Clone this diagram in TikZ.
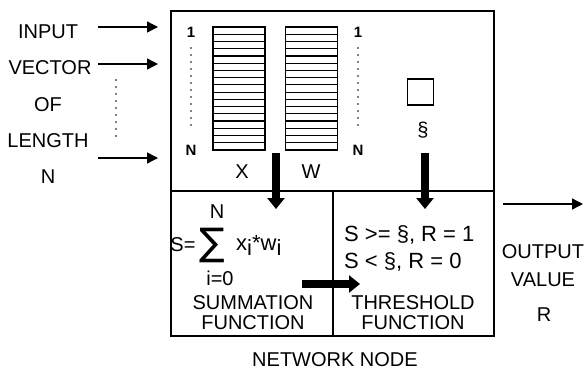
\documentclass[tikz,border=0pt]{standalone}
\usepackage{fontspec}
\setmainfont{Liberation Sans}
\newfontfamily\sigfont{DejaVu Sans}
\usetikzlibrary{arrows.meta}

\begin{document}
\begin{tikzpicture}[x=1pt,y=-1pt,
  cell/.style={draw,line width=2.2pt,inner sep=0pt,anchor=north west},
  bar/.style={draw,line width=1.6pt,inner sep=0pt,minimum width=52pt,minimum height=123pt},
  lbl/.style={font=\fontsize{20}{22}\selectfont,inner sep=0pt},
  rule/.style={font=\fontsize{22}{24}\selectfont,inner sep=0pt,anchor=west},
  idx/.style={font=\fontsize{15}{18}\selectfont\bfseries,inner sep=0pt},
  dots/.style={line width=1.6pt,line cap=round,dash pattern=on 0pt off 7pt},
  inarr/.style={-{Triangle[length=11pt,width=11pt]},line width=1.4pt},
  fatarr/.style={-{Triangle[length=11pt,width=17pt]},line width=7.5pt}]
  \useasboundingbox (0,0) rectangle (587,373);
  % node body
  \node[cell,minimum width=323pt,minimum height=180pt] (top) at (170,10) {};
  \node[cell,minimum width=162pt,minimum height=145pt] (sum) at (170,190) {};
  \node[cell,minimum width=161pt,minimum height=145pt] (thr) at (332,190) {};
  % input side
  \node[lbl] (in) at (48,32) {INPUT};
  \node[lbl] (vec) at (50,68) {VECTOR};
  \node[lbl] (of) at (48,105) {OF};
  \node[lbl] (len) at (48,141) {LENGTH};
  \node[lbl] (n) at (48,177) {N};
  \coordinate (a1) at (98,27);  \coordinate (b1) at (158,27);
  \coordinate (a2) at (98,64);  \coordinate (b2) at (158,64);
  \coordinate (a3) at (98,158); \coordinate (b3) at (158,158);
  \draw[inarr] (a1) -- (b1);
  \draw[inarr] (a2) -- (b2);
  \draw[inarr] (a3) -- (b3);
  \draw[dots] (116,80) -- (116,138);
  % weight and input stores
  \node[bar] (xbar) at (239,88.5) {};
  \node[bar] (wbar) at (311.5,88.5) {};
  \foreach \k in {1,...,16}{
    \pgfmathsetmacro\yy{27+\k*7.235}
    \draw[line width=1.2pt] (213,\yy) -- (265,\yy);
    \draw[line width=1.2pt] (286,\yy) -- (337,\yy);
  }
  \node[idx] (x1) at (191,32) {1};
  \node[idx] (xn) at (191,150) {N};
  \node[idx] (w1) at (358,32) {1};
  \node[idx] (wn) at (358,150) {N};
  \draw[dots] (191,48) -- (191,128);
  \draw[dots] (358,48) -- (358,128);
  \node[lbl] (xl) at (242,172) {X};
  \node[lbl] (wl) at (311,172) {W};
  % threshold
  \node[draw,line width=1.6pt,minimum size=26pt,inner sep=0pt] (th) at (420.5,92) {};
  \node[lbl] (thl) at (423,130) {§};
  \coordinate (f1) at (276,153); \coordinate (g1) at (276,209);
  \coordinate (f2) at (425,153); \coordinate (g2) at (425,209);
  \draw[fatarr] (f1) -- (g1);
  \draw[fatarr] (f2) -- (g2);
  % summation
  \node[lbl] (seq) at (183,245) {S=};
  \node[inner sep=0pt] (sig) at (212,245) {\sigfont\fontsize{38}{38}\selectfont ∑};
  \node[lbl] (top n) at (217,212) {N};
  \node[lbl] (low) at (220,278) {i=0};
  \node[rule] (xw) at (236,245) {x\raisebox{-5pt}{i}*w\raisebox{-5pt}{i}};
  \node[lbl] (s1) at (253,303) {SUMMATION};
  \node[lbl] (s2) at (253,323) {FUNCTION};
  \coordinate (h1) at (302,284); \coordinate (h2) at (360,284);
  \draw[fatarr] (h1) -- (h2);
  % threshold rules
  \node[rule] (r1) at (344,235) {S >= §, R = 1};
  \node[rule] (r0) at (344,262) {S < §, R = 0};
  \node[lbl] (t1) at (413,303) {THRESHOLD};
  \node[lbl] (t2) at (413,323) {FUNCTION};
  % output
  \coordinate (o1) at (503,204); \coordinate (o2) at (583,204);
  \draw[inarr] (o1) -- (o2);
  \node[lbl] (out) at (543,252) {OUTPUT};
  \node[lbl] (val) at (543,280) {VALUE};
  \node[lbl] (rr) at (544,315) {R};
  \node[lbl] (cap) at (335,360) {NETWORK NODE};
\end{tikzpicture}
\end{document}
